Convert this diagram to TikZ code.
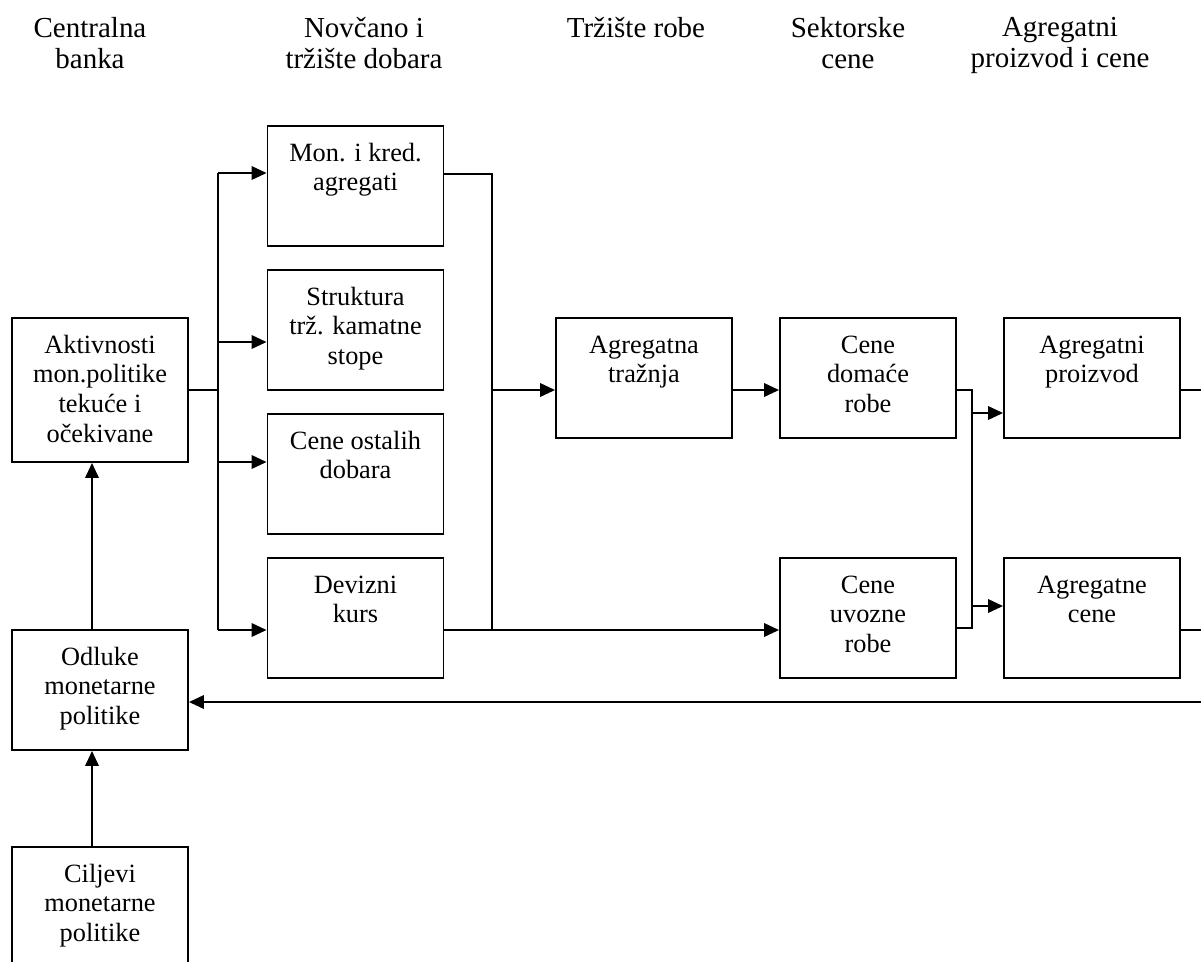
\documentclass[tikz,border=0pt]{standalone}
\usepackage{fontspec}
\setmainfont{Liberation Serif}
\usetikzlibrary{arrows.meta}

\newcommand{\okfont}{\fontsize{15}{17}\selectfont}
\newcommand{\nasfont}{\fontsize{16.5}{17.6}\selectfont}
% sadrzaj okvira: visina, tekst (poravnat gore)
\newcommand{\sadrzaj}[2]{\parbox[c][#1][t]{3.52cm}{\centering\rule{0pt}{0.7cm}#2}}

\tikzset{
  okvir/.style={draw, line width=1.1pt, inner sep=0pt, font=\okfont},
  naslov/.style={anchor=north, inner sep=0pt, align=center, font=\nasfont},
  veza/.style={line width=1.1pt},
  strelica/.style={line width=1.1pt, -{Triangle[length=0.3cm,width=0.27cm]}}
}

\begin{document}
\begin{tikzpicture}[x=0.02cm, y=-0.02cm]
        \useasboundingbox (0,0) rectangle (1201,961);
        \clip (0,0) rectangle (1201,961);
        %% naslovi kolona
        \node[naslov] (h1) at (90,17) {Centralna\\banka};
        \node[naslov] (h2) at (364,17) {Novčano i\\tržište dobara};
        \node[naslov] (h3) at (636,17) {Tržište robe};
        \node[naslov] (h4) at (848,17) {Sektorske\\cene};
        \node[naslov] (h5) at (1060,17) {Agregatni\\proizvod i cene};
        %% centralna banka
        \node[okvir] (aktivnosti) at (100,390) {\sadrzaj{2.88cm}{Aktivnosti\\mon.politike\\tekuće i\\očekivane}};
        \node[okvir] (odluke) at (100,690) {\sadrzaj{2.4cm}{Odluke\\monetarne\\politike}};
        \node[okvir] (ciljevi) at (100,907) {\sadrzaj{2.4cm}{Ciljevi\\monetarne\\politike}};
        %% novcano trziste
        \node[okvir] (mon) at (355.5,186) {\sadrzaj{2.4cm}{Mon. i kred.\\agregati}};
        \node[okvir] (struktura) at (355.5,330) {\sadrzaj{2.4cm}{Struktura\\trž. kamatne\\stope}};
        \node[okvir] (ostalih) at (355.5,474) {\sadrzaj{2.4cm}{Cene ostalih\\dobara}};
        \node[okvir] (devizni) at (355.5,618) {\sadrzaj{2.4cm}{Devizni\\kurs}};
        %% trziste robe, cene
        \node[okvir] (traznja) at (644,378) {\sadrzaj{2.4cm}{Agregatna\\tražnja}};
        \node[okvir] (domace) at (868,378) {\sadrzaj{2.4cm}{Cene\\domaće\\robe}};
        \node[okvir] (uvozne) at (868,618) {\sadrzaj{2.4cm}{Cene\\uvozne\\robe}};
        \node[okvir] (proizvod) at (1092,378) {\sadrzaj{2.4cm}{Agregatni\\proizvod}};
        \node[okvir] (cene) at (1092,618) {\sadrzaj{2.4cm}{Agregatne\\cene}};
        %% tacke grananja
        \coordinate (sa) at (218,173);
        \coordinate (sb) at (218,342);
        \coordinate (sc) at (218,462);
        \coordinate (sd) at (218,630);
        \coordinate (ma) at (492,174);
        \coordinate (mb) at (492,630);
        \coordinate (mc) at (492,390);
        \coordinate (da) at (972,390);
        \coordinate (db) at (972,628);
        \coordinate (dc) at (972,413);
        \coordinate (dd) at (972,606);
        \coordinate (ka) at (1215,390);
        \coordinate (kb) at (1215,630);
        \coordinate (kc) at (1215,702);
        %% veze
        \draw[strelica] ([xshift=-0.16cm]ciljevi.north) -- ([xshift=-0.16cm]odluke.south);
        \draw[strelica] ([xshift=-0.16cm]odluke.north) -- ([xshift=-0.16cm]aktivnosti.south);
        \draw[veza] (aktivnosti.east) -- (aktivnosti.east -| sa);
        \draw[veza] (sa) -- (sd);
        \foreach \c/\n in {sa/mon, sb/struktura, sc/ostalih, sd/devizni}
          \draw[strelica] (\c) -- (\c -| \n.west);
        \draw[veza] (mon.east |- ma) -- (ma) -- (mb);
        \draw[strelica] (devizni.east |- mb) -- (mb -| uvozne.west);
        \draw[strelica] (mc) -- (mc -| traznja.west);
        \draw[strelica] (traznja.east |- mc) -- (mc -| domace.west);
        \draw[veza] (domace.east |- da) -- (da) -- (db) -- (uvozne.east |- db);
        \draw[strelica] (dc) -- (dc -| proizvod.west);
        \draw[strelica] (dd) -- (dd -| cene.west);
        \draw[veza] (proizvod.east |- ka) -- (ka) -- (kc);
        \draw[veza] (cene.east |- kb) -- (kb);
        \draw[strelica] (kc) -- (kc -| odluke.east);
      \end{tikzpicture}
\end{document}
